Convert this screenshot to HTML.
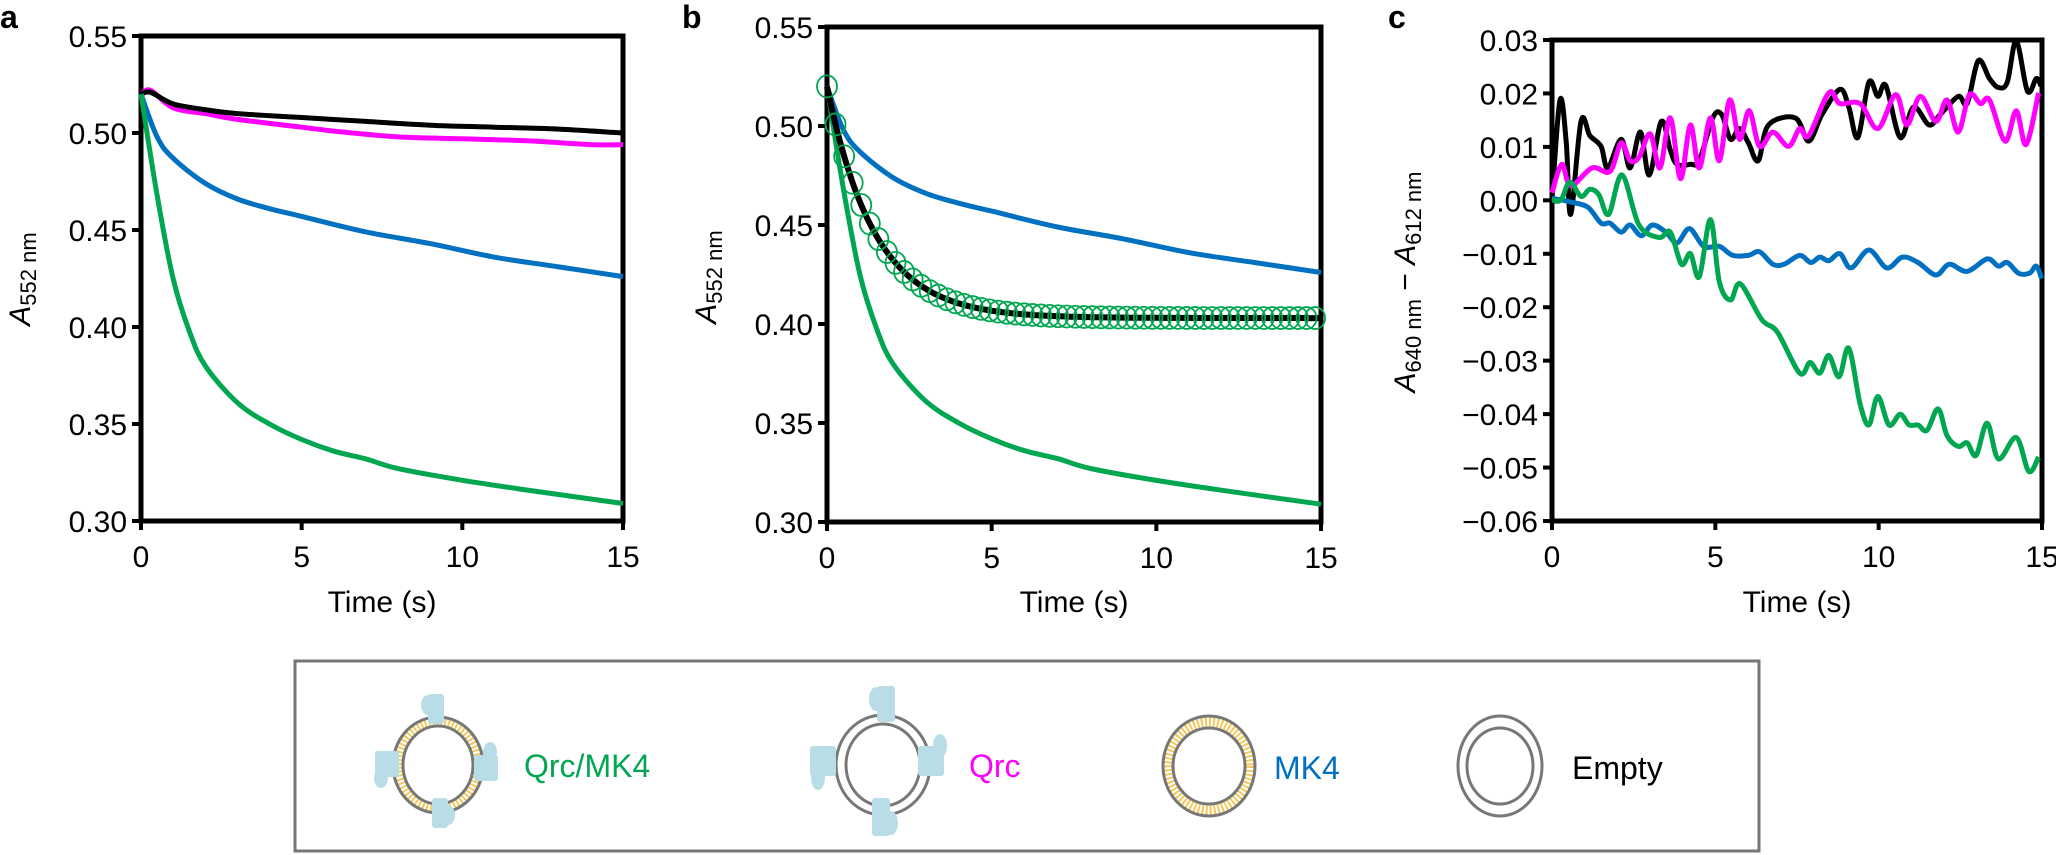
<!DOCTYPE html>
<html><head><meta charset="utf-8"><style>
html,body{margin:0;padding:0;background:#fff;}
svg{display:block;font-family:"Liberation Sans",Arial,sans-serif;}
</style></head><body>
<svg id="s" width="2056" height="855" viewBox="0 0 2056 855" xmlns="http://www.w3.org/2000/svg">
<g font-size="30" fill="#000">
<text x="0" y="28" font-weight="bold" font-size="32">a</text>
<text x="682" y="28" font-weight="bold" font-size="32">b</text>
<text x="1388" y="28" font-weight="bold" font-size="32">c</text>
</g>
<g id="axes"></g>
<g id="data"></g>
<!-- legend -->
<rect x="295" y="661" width="1464" height="190" fill="none" stroke="#777" stroke-width="3"/>
<g>
 <ellipse cx="438" cy="765" rx="40" ry="44" fill="none" stroke="#f4c85a" stroke-width="10" stroke-dasharray="2 2"/>
 <ellipse cx="438" cy="765" rx="45" ry="48" fill="none" stroke="#777" stroke-width="3"/>
 <ellipse cx="438" cy="765" rx="35" ry="39" fill="none" stroke="#777" stroke-width="3"/>
 <g fill="#b9dde6">
  <rect x="428" y="694" width="16" height="30" rx="3"/><ellipse cx="428" cy="705" rx="7" ry="10"/>
  <rect x="432" y="798" width="16" height="30" rx="3"/><ellipse cx="448" cy="815" rx="7" ry="10"/>
  <rect x="375" y="751" width="24" height="26" rx="3"/><ellipse cx="381" cy="778" rx="7" ry="10"/>
  <rect x="474" y="755" width="24" height="26" rx="3"/><ellipse cx="490" cy="752" rx="7" ry="10"/>
 </g>
 <ellipse cx="883" cy="765" rx="47" ry="50" fill="none" stroke="#777" stroke-width="3"/>
 <ellipse cx="883" cy="765" rx="37" ry="41" fill="none" stroke="#777" stroke-width="3"/>
 <g fill="#b9dde6">
  <rect x="877" y="686" width="18" height="36" rx="3"/><ellipse cx="876" cy="699" rx="7" ry="12"/>
  <rect x="872" y="798" width="18" height="38" rx="3"/><ellipse cx="891" cy="823" rx="7" ry="12"/>
  <rect x="810" y="746" width="26" height="30" rx="3"/><ellipse cx="818" cy="778" rx="7" ry="12"/>
  <rect x="918" y="746" width="26" height="30" rx="3"/><ellipse cx="940" cy="746" rx="7" ry="12"/>
 </g>
 <ellipse cx="1209" cy="766" rx="41" ry="44" fill="none" stroke="#f4c85a" stroke-width="10" stroke-dasharray="2 2"/>
 <ellipse cx="1209" cy="766" rx="46" ry="50" fill="none" stroke="#777" stroke-width="3"/>
 <ellipse cx="1209" cy="766" rx="36" ry="38" fill="none" stroke="#777" stroke-width="3"/>
 <ellipse cx="1500" cy="766" rx="42" ry="50" fill="none" stroke="#777" stroke-width="3"/>
 <ellipse cx="1500" cy="766" rx="33" ry="38" fill="none" stroke="#777" stroke-width="3"/>
 <g font-size="32">
  <text x="524" y="777" fill="#00a650">Qrc/MK4</text>
  <text x="969" y="777" fill="#ff00ff">Qrc</text>
  <text x="1274" y="779" fill="#0070c0">MK4</text>
  <text x="1572" y="779" fill="#000">Empty</text>
 </g>
</g>
</svg>
<script>
var NS="http://www.w3.org/2000/svg";
var axes=document.getElementById('axes'),data=document.getElementById('data');
function el(n,a,p,t){var e=document.createElementNS(NS,n);for(var k in a)e.setAttribute(k,a[k]);if(t!==undefined)e.textContent=t;(p||data).appendChild(e);return e;}
function panel(P){
 el('rect',{x:P.x0,y:P.y0,width:P.x1-P.x0,height:P.y1-P.y0,fill:'none',stroke:'#000','stroke-width':5},axes);
 for(var i=0;i<P.yt.length;i++){var y=P.y0+(P.y1-P.y0)*i/(P.yt.length-1);
  el('line',{x1:P.x0-9,x2:P.x0,y1:y,y2:y,stroke:'#000','stroke-width':4},axes);
  el('text',{x:P.x0-14,y:y+11,'text-anchor':'end','font-size':30},axes,P.yt[i]);}
 [0,5,10,15].forEach(function(t){var x=P.x0+(P.x1-P.x0)*t/15;
  el('line',{x1:x,x2:x,y1:P.y1,y2:P.y1+9,stroke:'#000','stroke-width':4},axes);
  el('text',{x:x,y:P.y1+46,'text-anchor':'middle','font-size':30},axes,String(t));});
 el('text',{x:(P.x0+P.x1)/2,y:612,'text-anchor':'middle','font-size':30},axes,'Time (s)');
}
function sx(P,t){return P.x0+(P.x1-P.x0)*t/15;}
function sy(P,v){return P.y1-(v-P.vmin)/(P.vmax-P.vmin)*(P.y1-P.y0);}
function smooth(pts){
 var d='M'+pts[0][0]+','+pts[0][1];
 for(var i=0;i<pts.length-1;i++){var p0=pts[Math.max(0,i-1)],p1=pts[i],p2=pts[i+1],p3=pts[Math.min(pts.length-1,i+2)];
  var c1=[p1[0]+(p2[0]-p0[0])/6,p1[1]+(p2[1]-p0[1])/6],c2=[p2[0]-(p3[0]-p1[0])/6,p2[1]-(p3[1]-p1[1])/6];
  d+=' C'+c1[0].toFixed(1)+','+c1[1].toFixed(1)+' '+c2[0].toFixed(1)+','+c2[1].toFixed(1)+' '+p2[0].toFixed(1)+','+p2[1].toFixed(1);}
 return d;}
function curve(P,tv,col,w){var pts=tv.map(function(q){return [sx(P,q[0]),sy(P,q[1])];});
 el('path',{d:smooth(pts),fill:'none',stroke:col,'stroke-width':w||5,'stroke-linejoin':'round'});}
var A={x0:141,x1:623,y0:36,y1:521,vmin:0.30,vmax:0.55,yt:['0.55','0.50','0.45','0.40','0.35','0.30']};
var B={x0:827,x1:1321,y0:27,y1:522,vmin:0.30,vmax:0.55,yt:['0.55','0.50','0.45','0.40','0.35','0.30']};
var C={x0:1552,x1:2042,y0:40,y1:521,vmin:-0.06,vmax:0.03,yt:['0.03','0.02','0.01','0.00','\u22120.01','\u22120.02','\u22120.03','\u22120.04','\u22120.05','\u22120.06']};
panel(A);panel(B);panel(C);
var green=[[0,.52],[.5,.468],[1,.425],[1.5,.398],[2,.38],[3,.361],[4,.35],[5,.342],[6,.336],[7,.332],[8,.327],[10,.321],[12,.316],[15,.309]];
var blue=[[0,.52],[.5,.498],[1,.487],[2,.474],[3,.466],[4,.461],[5,.457],[7,.449],[9,.443],[11,.436],[13,.431],[15,.426]];
var mag=[[0,.52],[.3,.522],[1,.513],[2,.51],[3,.507],[5,.503],[6,.501],[8,.498],[10,.497],[12,.496],[14,.494],[15,.494]];
var blk=[[0,.52],[.3,.521],[1,.515],[2,.512],[3,.51],[5,.508],[7,.506],[9,.504],[11,.503],[13,.502],[15,.5]];
curve(A,mag,'#ff00ff');curve(A,blk,'#000');curve(A,blue,'#0070c0');curve(A,green,'#00a650');
curve(B,blue,'#0070c0');curve(B,green,'#00a650');
var fit=[];for(var t=0;t<=15.001;t+=0.1)fit.push([t,0.403+0.117*Math.exp(-t/1.45)]);
curve(B,fit,'#000',6);
for(var t=0;t<=15.001;t+=0.26){el('ellipse',{cx:sx(B,t),cy:sy(B,0.403+0.117*Math.exp(-t/1.45)),rx:10,ry:11,fill:'none',stroke:'#00a650','stroke-width':1.8});}
function cz(arr,col){var pts=[];for(var i=0;i<arr.length;i+=2)pts.push([1360+arr[i]/2.24,arr[i+1]/2.8]);
 el('path',{d:smooth(pts),fill:'none',stroke:col,'stroke-width':5,'stroke-linejoin':'round'});}
cz([430,560,448,280,462,400,472,600,495,340,515,380,540,410,555,470,585,390,605,470,628,370,648,490,675,340,695,420,710,460,740,460,760,450,790,330,810,320,830,390,850,360,870,400,892,450,915,350,975,330,1005,395,1035,320,1075,250,1095,300,1115,385,1140,230,1160,270,1178,240,1210,385,1240,300,1275,350,1300,320,1340,270,1360,290,1385,170,1410,220,1430,245,1450,230,1470,115,1495,255,1515,220,1525,240],'#000');
cz([430,540,452,460,472,520,520,470,560,480,585,400,605,450,625,440,650,375,672,470,695,330,718,500,740,350,760,470,785,330,805,450,828,280,850,390,872,310,895,410,925,370,960,410,985,360,1005,380,1050,260,1075,290,1120,290,1160,360,1200,265,1225,350,1255,270,1290,340,1315,280,1340,370,1365,265,1390,290,1410,280,1445,395,1470,310,1492,405,1520,260],'#ff00ff');
cz([430,555,470,565,510,580,540,625,560,625,585,650,605,630,630,660,655,630,685,650,710,680,738,640,770,690,805,690,835,715,870,715,895,705,925,740,950,740,985,715,1010,735,1030,720,1050,730,1075,710,1100,750,1140,700,1180,750,1215,720,1250,735,1290,770,1320,740,1360,760,1405,725,1430,745,1450,735,1475,765,1500,765,1515,745,1527,780],'#0070c0');
cz([430,560,450,560,470,510,495,550,515,530,535,545,557,600,587,490,625,630,670,665,695,650,720,740,740,710,760,775,785,615,805,790,830,840,852,795,900,895,935,930,985,1045,1008,1015,1030,1045,1050,995,1073,1055,1095,975,1120,1130,1140,1190,1160,1110,1185,1190,1210,1160,1230,1190,1250,1190,1270,1205,1295,1145,1315,1220,1340,1250,1360,1240,1380,1275,1405,1185,1430,1285,1470,1225,1498,1320,1520,1280],'#00a650');
function ylab(x,y,sub){var t=el('text',{transform:'translate('+x+','+y+') rotate(-90)','text-anchor':'middle','font-size':30},axes);
 t.innerHTML=sub;}
ylab(30,279,'<tspan font-style="italic">A</tspan><tspan font-size="22" dy="6">552 nm</tspan>');
ylab(716,277,'<tspan font-style="italic">A</tspan><tspan font-size="22" dy="6">552 nm</tspan>');
ylab(1415,282,'<tspan font-style="italic">A</tspan><tspan font-size="22" dy="6">640 nm</tspan><tspan dy="-6"> \u2212 </tspan><tspan font-style="italic">A</tspan><tspan font-size="22" dy="6">612 nm</tspan>');
</script>
</body></html>
